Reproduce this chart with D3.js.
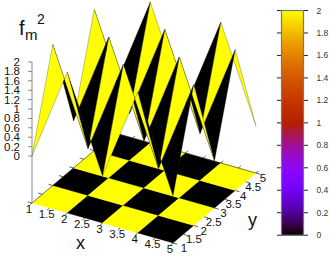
<!DOCTYPE html>
<html>
<head>
<meta charset="utf-8">
<script src="https://cdn.jsdelivr.net/npm/d3@7"></script>
<style>
  html, body { margin: 0; padding: 0; background: #fff; }
  text { font-family: "Liberation Sans", sans-serif; fill: #111; }
</style>
</head>
<body>
<svg id="chart" width="329" height="256" style="display:block"></svg>
<script>
const xValues = [1, 2, 3, 4, 5];
const yValues = [1, 2, 3, 4, 5];
// z on the grid, rows are y = 1..5
const zRows = [
  [0, 2, 0, 2, 0],
  [2, 0, 2, 0, 2],
  [0, 2, 0, 2, 0],
  [2, 0, 2, 0, 2],
  [0, 2, 0, 2, 0]
];
const xTicks = [1, 1.5, 2, 2.5, 3, 3.5, 4, 4.5, 5];
const yTicks = [1, 1.5, 2, 2.5, 3, 3.5, 4, 4.5, 5];
const zTicks = [0, 0.2, 0.4, 0.6, 0.8, 1, 1.2, 1.4, 1.6, 1.8, 2];

const svg = d3.select("#chart");

// oblique projection of the box, base corner (1,1) is the origin
const sx = d3.scaleLinear().domain([1, 5]).range([0, 141]);      // along x, screen right
const sxUp = d3.scaleLinear().domain([1, 5]).range([0, 40]);     // along x, screen down
const sy = d3.scaleLinear().domain([1, 5]).range([0, 83]);       // along y, screen right
const syUp = d3.scaleLinear().domain([1, 5]).range([0, -70]);    // along y, screen up
const sz = d3.scaleLinear().domain([0, 2]).range([156, 62]);

const originX = 32, baseY = 203;
const px = (x, y) => originX + sx(x) + sy(y);
const py = (x, y, z) => z === null ? baseY + sxUp(x) + syUp(y) : sz(z) + sxUp(x) + syUp(y);

const color = d3.scaleLinear().domain([0, 2]).range([0, 1]);
// gnuplot default pm3d palette, rgbformulae 7,5,15
function palette(t) {
  const b = Math.max(0, Math.sin(2 * Math.PI * t));
  return d3.rgb(255 * Math.sqrt(t), 255 * t * t * t, 255 * b).formatHex();
}

// one quad per grid cell, coloured from its (x+1, y) corner like corners2color
let cells = [];
yValues.slice(0, -1).forEach((y, j) => {
  xValues.slice(0, -1).forEach((x, i) => {
    cells.push({i, j, x, y, c: zRows[j][i + 1]});
  });
});

const quad = d3.line();

// floor map
svg.append("g")
  .selectAll("path")
  .data(cells)
  .join("path")
    .attr("d", d => quad([
      [px(d.x, d.y), py(d.x, d.y, null)],
      [px(d.x + 1, d.y), py(d.x + 1, d.y, null)],
      [px(d.x + 1, d.y + 1), py(d.x + 1, d.y + 1, null)],
      [px(d.x, d.y + 1), py(d.x, d.y + 1, null)]
    ]) + "Z")
    .attr("fill", d => palette(color(d.c)))
    .attr("stroke", d => palette(color(d.c)))
    .attr("stroke-width", 0.3);

// back edges of the floor
svg.append("path")
  .attr("d", quad([
    [px(1, 1), py(1, 1, null)],
    [px(1, 5), py(1, 5, null)],
    [px(5, 5), py(5, 5, null)]
  ]))
  .attr("fill", "none").attr("stroke", "#222").attr("stroke-width", 0.6);

// little ticks round the floor
const tickLen = 0.12;
const floorTicks = [];
xTicks.forEach(d => {
  floorTicks.push([d, 5, d, 5 + tickLen]);
  floorTicks.push([d, 1, d, 1 - tickLen]);
});
yTicks.forEach(d => {
  floorTicks.push([1, d, 1 - tickLen, d]);
  floorTicks.push([5, d, 5 + tickLen, d]);
});
svg.append("g").selectAll("line").data(floorTicks).join("line")
  .attr("x1", d => px(d[0], d[1])).attr("y1", d => py(d[0], d[1], null))
  .attr("x2", d => px(d[2], d[3])).attr("y2", d => py(d[2], d[3], null))
  .attr("stroke", "#222").attr("stroke-width", 0.7);

// z axis
svg.append("line")
  .attr("x1", originX).attr("x2", originX)
  .attr("y1", baseY).attr("y2", sz(2))
  .attr("stroke", "#888").attr("stroke-width", 1);

svg.append("g").selectAll("line").data(zTicks).join("line")
  .attr("x1", originX - 4).attr("x2", originX)
  .attr("y1", d => sz(d)).attr("y2", d => sz(d))
  .attr("stroke", "#888");

svg.append("g").selectAll("text").data(zTicks).join("text")
  .attr("x", originX - 12)
  .attr("y", d => sz(d) + 4)
  .attr("text-anchor", "end")
  .attr("font-size", 11.5)
  .text(d => d);

// surface, scan from the far (5,5) corner down to (1,1)
const ordered = cells.slice().sort((a, b) => (b.y - a.y) || (b.x - a.x));
svg.append("g")
  .selectAll("path")
  .data(ordered)
  .join("path")
    .attr("d", d => quad([
      [px(d.x, d.y), py(d.x, d.y, zRows[d.j][d.i])],
      [px(d.x + 1, d.y), py(d.x + 1, d.y, zRows[d.j][d.i + 1])],
      [px(d.x + 1, d.y + 1), py(d.x + 1, d.y + 1, zRows[d.j + 1][d.i + 1])],
      [px(d.x, d.y + 1), py(d.x, d.y + 1, zRows[d.j + 1][d.i])]
    ]) + "Z")
    .attr("fill", d => palette(color(d.c)))
    .attr("stroke", "#333")
    .attr("stroke-width", 0.3);

// base tick labels
svg.append("g").selectAll("text").data(xTicks).join("text")
  .attr("x", d => px(d, 1) - 3)
  .attr("y", d => py(d, 1, null) + 10)
  .attr("text-anchor", "middle")
  .attr("font-size", 11.5)
  .text(d => d);

svg.append("g").selectAll("text").data(yTicks).join("text")
  .attr("x", d => px(5, d) + 11 - (d - 1) * 1)
  .attr("y", d => py(5, d, null) + 9)
  .attr("text-anchor", "middle")
  .attr("font-size", 11.5)
  .text(d => d);

svg.append("text").attr("x", 76).attr("y", 249).attr("font-size", 18).text("x");
svg.append("text").attr("x", 248).attr("y", 226).attr("font-size", 18).text("y");

// z label
svg.append("text").attr("x", 19).attr("y", 35).attr("font-size", 20).text("f");
svg.append("text").attr("x", 25).attr("y", 40).attr("font-size", 15).text("m");
svg.append("text").attr("x", 37).attr("y", 24).attr("font-size", 14).text("2");

// colour box
const cbScale = d3.scaleLinear().domain([0, 2]).range([234.7, 10]);
const grad = svg.append("defs").append("linearGradient").attr("id", "cb")
  .attr("x1", 0).attr("x2", 0).attr("y1", 1).attr("y2", 0);
d3.range(0, 1.001, 0.02).forEach(t => {
  grad.append("stop").attr("offset", t).attr("stop-color", palette(t));
});

svg.append("g").selectAll("line").data(zTicks).join("line")
  .attr("x1", 277).attr("x2", 308)
  .attr("y1", d => cbScale(d) + 0.5).attr("y2", d => cbScale(d) + 0.5)
  .attr("stroke", "#222");

svg.append("rect")
  .attr("x", 281.5).attr("y", cbScale(2) + 0.5)
  .attr("width", 22).attr("height", cbScale(0) - cbScale(2))
  .attr("fill", "url(#cb)")
  .attr("stroke", "#777").attr("stroke-width", 1.2);

svg.append("g").selectAll("text").data(zTicks).join("text")
  .attr("x", 316.5)
  .attr("y", d => cbScale(d) + 3.5)
  .attr("font-size", 8.5)
  .style("fill", "#333")
  .text(d => d);
</script>
</body>
</html>
